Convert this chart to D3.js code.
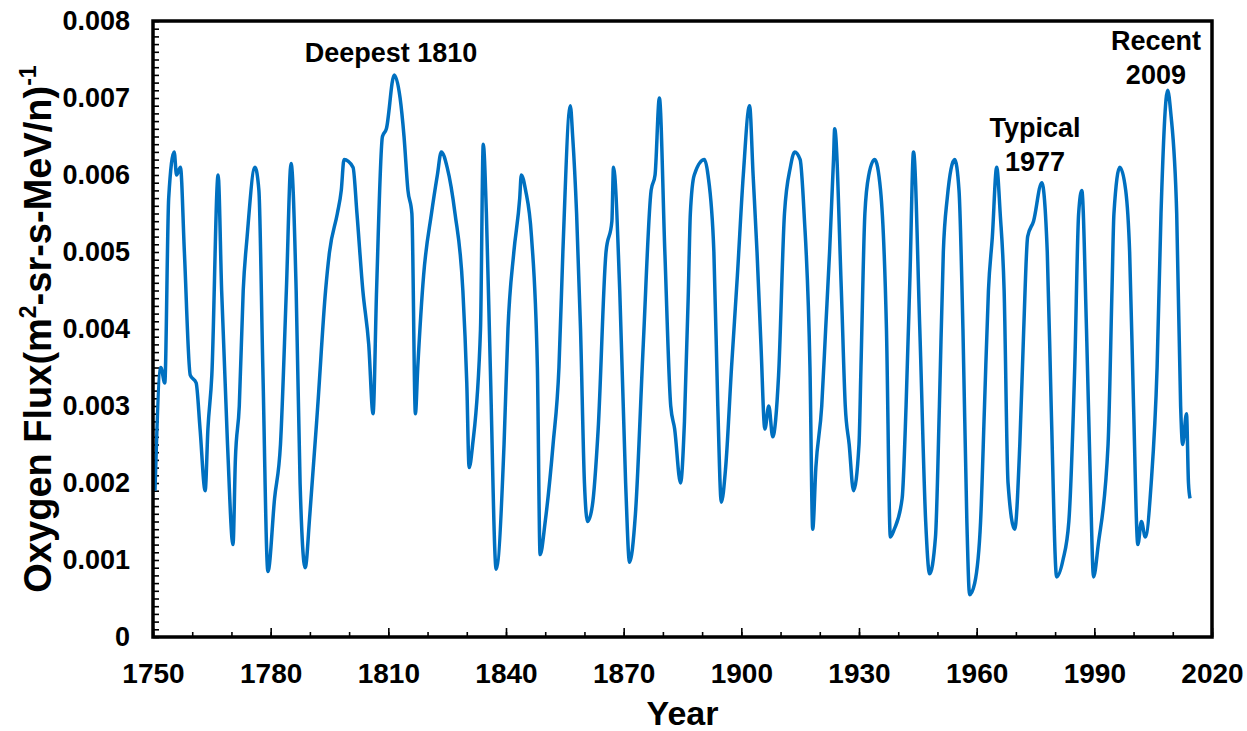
<!DOCTYPE html>
<html>
<head>
<meta charset="utf-8">
<script src="https://cdn.jsdelivr.net/npm/d3@7"></script>
<style>
  body { margin: 0; background: #fff; }
  text { font-family: "Liberation Sans", Arial, sans-serif; }
</style>
</head>
<body>
<div id="chart"></div>
<script>
var svgWidth = 1247;
var svgHeight = 731;

var margin = { top: 21, right: 35, bottom: 94, left: 153 };
var width = svgWidth - margin.left - margin.right;
var height = svgHeight - margin.top - margin.bottom;

// years and flux
var years = [1750.5, 1752, 1753, 1754, 1755.4, 1756, 1757, 1758, 1759.5, 1761, 1762, 1763.3, 1764, 1765, 1766.6,
  1767.5, 1769, 1770.4, 1771, 1772, 1773, 1774, 1776, 1777, 1778, 1779.3, 1781, 1782.5, 1784, 1785.2,
  1786.5, 1787.5, 1788.8, 1790, 1792, 1794, 1795, 1797, 1798, 1798.7, 1801, 1802, 1803.5, 1805, 1806.1,
  1807, 1808.5, 1809.5, 1811.5, 1813, 1814, 1815, 1816, 1816.9, 1817.5, 1819, 1821, 1822.5, 1823.5, 1825,
  1827, 1829, 1830, 1830.6, 1831.5, 1833.5, 1834.2, 1835, 1836, 1837.5, 1839.5, 1840.5, 1842, 1843.5,
  1843.9, 1845, 1846.5, 1848, 1848.7, 1850, 1852, 1853.5, 1854.5, 1856.4, 1857, 1858, 1859, 1860, 1860.8,
  1862, 1863.5, 1865.5, 1867, 1867.4, 1869, 1870.5, 1871.5, 1873, 1875, 1877, 1878, 1879.1, 1880.5, 1882,
  1883, 1884.5, 1885.5, 1886.5, 1887, 1888, 1890.6, 1891.5, 1893, 1894, 1894.9, 1896, 1897.5, 1899,
  1900.5, 1902.1, 1903, 1904, 1905, 1906, 1907, 1908, 1909.5, 1911, 1912.5, 1913.6, 1915, 1916, 1917.5,
  1918.2, 1919, 1920.5, 1921.5, 1922.5, 1923.5, 1923.8, 1925.5, 1926.5, 1927.5, 1928.6, 1930, 1930.5,
  1931.5, 1932.5, 1934, 1935.5, 1937, 1938, 1939, 1941, 1942, 1943, 1943.9, 1945.5, 1947, 1948, 1949.5,
  1950.5, 1951.5, 1952.5, 1954.4, 1955.5, 1956.5, 1957.5, 1958.2, 1959.5, 1961, 1962, 1963, 1964, 1965.1,
  1966, 1967, 1968, 1969.7, 1971, 1972, 1973, 1974.5, 1976.6, 1978, 1979, 1980.4, 1982, 1983.5, 1985,
  1986, 1986.8, 1988, 1989, 1989.8, 1991, 1993.5, 1994.5, 1995, 1996.5, 1998, 1999, 2000, 2001.1, 2002,
  2003, 2004.5, 2006, 2007, 2008.7, 2009.5, 2011, 2012, 2012.5, 2013.5, 2014, 2014.4];

var flux = [0.0019, 0.0035, 0.0033, 0.0057, 0.0063, 0.0060, 0.0061, 0.0050, 0.0034, 0.0033, 0.0027, 0.0019, 0.0027, 0.0034, 0.0060,
  0.0045, 0.0025, 0.0012, 0.0023, 0.0030, 0.0045, 0.0052, 0.0061, 0.0058, 0.0035, 0.00085, 0.0018, 0.0025, 0.0045, 0.00615,
  0.0045, 0.0020, 0.0009, 0.0016, 0.0030, 0.0045, 0.0050, 0.0055, 0.0058, 0.0062, 0.0061, 0.0055, 0.0045, 0.0038, 0.0029,
  0.0045, 0.0065, 0.0066, 0.0073, 0.0070, 0.0065, 0.0058, 0.0055, 0.0029, 0.0035, 0.0047, 0.0055, 0.0060, 0.0063, 0.0061,
  0.0055, 0.0045, 0.0033, 0.0022, 0.0025, 0.0040, 0.0064, 0.0055, 0.0035, 0.00088, 0.0025, 0.0040, 0.0050, 0.0057,
  0.0060, 0.0058, 0.0052, 0.0035, 0.00107, 0.0015, 0.0025, 0.0035, 0.0050, 0.0069, 0.0065, 0.0055, 0.0040, 0.0020, 0.0015,
  0.0017, 0.0027, 0.0050, 0.0054, 0.0061, 0.0045, 0.0020, 0.00097, 0.0016, 0.0038, 0.0058, 0.0060, 0.0070, 0.0050, 0.0030,
  0.0027, 0.0020, 0.0028, 0.0045, 0.0055, 0.0060, 0.0062, 0.0060, 0.0050, 0.0030, 0.00175, 0.0022, 0.0035, 0.0047,
  0.0060, 0.0069, 0.0060, 0.0050, 0.0038, 0.0027, 0.0030, 0.0026, 0.0034, 0.0055, 0.0061, 0.0063, 0.0062, 0.0055, 0.0035,
  0.0014, 0.0022, 0.0030, 0.0040, 0.0050, 0.0062, 0.0066, 0.0045, 0.0030, 0.0025, 0.0019, 0.0025, 0.0035,
  0.0055, 0.0060, 0.0062, 0.0058, 0.0040, 0.0013, 0.0014, 0.0018, 0.0030, 0.0047, 0.0063, 0.0040, 0.0015, 0.00082, 0.0013,
  0.0030, 0.0050, 0.0057, 0.0062, 0.0058, 0.0040, 0.0015, 0.00055, 0.0007, 0.0015, 0.0030, 0.0045, 0.0052, 0.0061,
  0.0055, 0.0045, 0.0020, 0.0014, 0.0025, 0.0040, 0.0052, 0.0054, 0.0059, 0.0050, 0.0030, 0.00078, 0.0010, 0.0015, 0.0035,
  0.0055, 0.0058, 0.0040, 0.0020, 0.00078, 0.0012, 0.0025, 0.0045, 0.0055, 0.0061, 0.0058, 0.0050, 0.0030, 0.0012, 0.0015,
  0.0013, 0.0020, 0.0035, 0.0055, 0.0071, 0.0068, 0.0055, 0.0030, 0.0025, 0.0029, 0.0020, 0.0018];

var xTicks = [1750, 1780, 1810, 1840, 1870, 1900, 1930, 1960, 1990, 2020];
var yTicks = [0, 0.001, 0.002, 0.003, 0.004, 0.005, 0.006, 0.007, 0.008];

var notes = [
  { year: 1810.7, value: 0.00747, lines: ["Deepest 1810"] },
  { year: 1974.9, value: 0.00649, lines: ["Typical", "1977"] },
  { year: 2005.7, value: 0.00762, lines: ["Recent", "2009"] }
];

var data = years.map(function(y, i) { return { year: y, flux: flux[i] }; });

var svg = d3.select("#chart")
  .append("svg")
  .attr("width", svgWidth)
  .attr("height", svgHeight);

var chartGroup = svg.append("g")
  .attr("transform", `translate(${margin.left}, ${margin.top})`);

var xScale = d3.scaleLinear().domain([1750, 2020]).range([0, width]);
var yScale = d3.scaleLinear().domain([0, 0.008]).range([height, 0]);

// inward ticks: minor every 0.0001 on y, every 10 years on x
var yMinor = d3.range(0, 81).map(function(i) { return i / 10000; });
chartGroup.append("g")
  .call(d3.axisRight(yScale).tickValues(yMinor).tickSize(6).tickFormat(""))
  .call(g => g.select(".domain").remove())
  .selectAll("line").attr("stroke", "#000").attr("stroke-width", 1.6);

var xMinor = d3.range(1750, 2021, 10);
chartGroup.append("g")
  .attr("transform", `translate(0, ${height})`)
  .call(d3.axisTop(xScale).tickValues(xMinor).tickSize(5).tickFormat(""))
  .call(g => g.select(".domain").remove())
  .selectAll("line").attr("stroke", "#000").attr("stroke-width", 1.6);

chartGroup.append("g")
  .attr("transform", `translate(0, ${height})`)
  .call(d3.axisTop(xScale).tickValues(xTicks).tickSize(9).tickFormat(""))
  .call(g => g.select(".domain").remove())
  .selectAll("line").attr("stroke", "#000").attr("stroke-width", 1.6);

// tick labels
var yAxis = chartGroup.append("g")
  .call(d3.axisLeft(yScale).tickValues(yTicks).tickSize(0).tickPadding(23)
    .tickFormat(d => d === 0 ? "0" : d3.format(".3f")(d)));
yAxis.select(".domain").remove();
yAxis.selectAll("text")
  .style("font-family", "'Liberation Sans', Arial, sans-serif")
  .style("font-size", "27px")
  .style("font-weight", "bold")
  .attr("fill", "#000");

var xAxis = chartGroup.append("g")
  .attr("transform", `translate(0, ${height})`)
  .call(d3.axisBottom(xScale).tickValues(xTicks).tickSize(0).tickPadding(26)
    .tickFormat(d3.format("d")));
xAxis.select(".domain").remove();
xAxis.selectAll("text")
  .style("font-family", "'Liberation Sans', Arial, sans-serif")
  .style("font-size", "28px")
  .style("font-weight", "bold")
  .attr("fill", "#000");

// the data line
var line = d3.line()
  .curve(d3.curveMonotoneX)
  .x(d => xScale(d.year))
  .y(d => yScale(d.flux));

chartGroup.append("path")
  .datum(data)
  .attr("fill", "none")
  .attr("stroke", "#0070C0")
  .attr("stroke-width", 3.5)
  .attr("stroke-linejoin", "round")
  .attr("d", line);

// frame
chartGroup.append("rect")
  .attr("width", width)
  .attr("height", height)
  .attr("fill", "none")
  .attr("stroke", "#000")
  .attr("stroke-width", 3.5);

// annotations
notes.forEach(function(n) {
  var t = chartGroup.append("text")
    .attr("x", xScale(n.year))
    .attr("y", yScale(n.value))
    .attr("text-anchor", "middle")
    .style("font-size", "27px")
    .style("font-weight", "bold");
  n.lines.forEach(function(s, i) {
    t.append("tspan")
      .attr("x", xScale(n.year))
      .attr("dy", i === 0 ? 0 : 34)
      .text(s);
  });
});

// axis titles
chartGroup.append("text")
  .attr("transform", `translate(${width / 2}, ${height + 88})`)
  .attr("text-anchor", "middle")
  .style("font-size", "34px")
  .style("font-weight", "bold")
  .text("Year");

var yTitle = chartGroup.append("text")
  .attr("transform", `translate(${-margin.left + 51}, ${height / 2}) rotate(-90)`)
  .attr("text-anchor", "middle")
  .style("font-size", "38px")
  .style("font-weight", "bold");
yTitle.append("tspan").text("Oxygen Flux(m");
yTitle.append("tspan").attr("dy", -15).style("font-size", "23px").text("2");
yTitle.append("tspan").attr("dy", 15).text("-sr-s-MeV/n)");
yTitle.append("tspan").attr("dy", -15).style("font-size", "23px").text("-1");
</script>
</body>
</html>
